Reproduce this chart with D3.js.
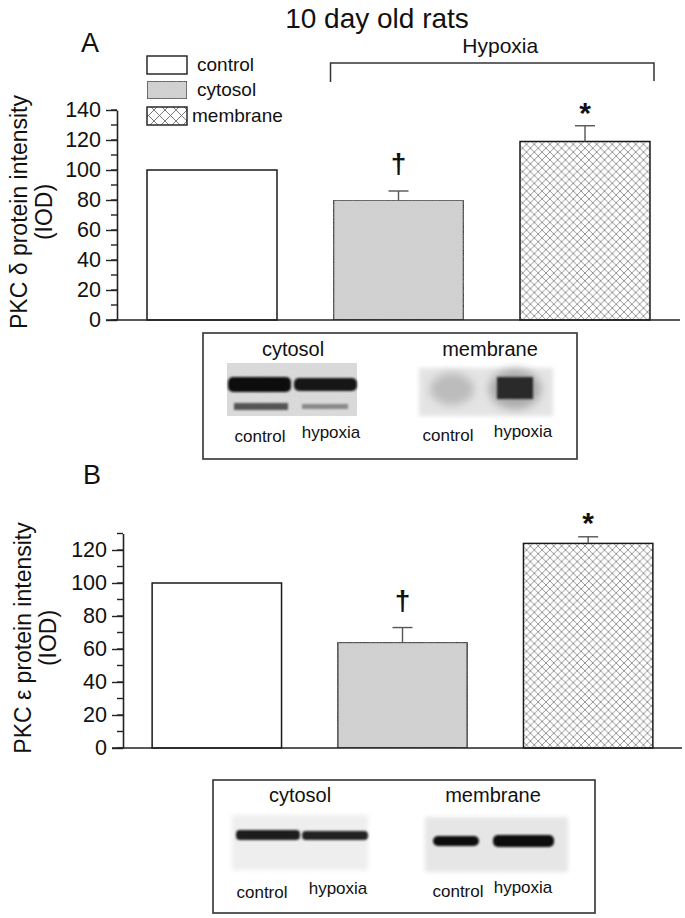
<!DOCTYPE html>
<html><head><meta charset="utf-8">
<script src="https://cdn.jsdelivr.net/npm/d3@7"></script>
<style>body{margin:0;background:#fff}svg{display:block}text{font-family:"Liberation Sans",Arial,sans-serif;fill:#111}</style>
</head><body>
<script>
const categories = ["control", "cytosol", "membrane"];
const valuesA = [100, 80, 119];
const errorsA = [0, 6, 10.5];
const valuesB = [100, 64, 124];
const errorsB = [0, 9, 4];
const markers = ["", "\u2020", "*"];
const ticksA = [0, 20, 40, 60, 80, 100, 120, 140];
const ticksB = [0, 20, 40, 60, 80, 100, 120];
const blotLaneLabels = ["control", "hypoxia"];
const blotFractions = ["cytosol", "membrane"];

const W = 685, H = 918;
const svg = d3.select("body").append("svg").attr("width", W).attr("height", H);
const defs = svg.append("defs");

function hatch(id, size, col, sw) {
  const p = defs.append("pattern").attr("id", id).attr("patternUnits", "userSpaceOnUse")
    .attr("width", size).attr("height", size);
  p.append("rect").attr("width", size).attr("height", size).attr("fill", "#fff");
  p.append("path").attr("d", `M0,0L${size},${size}M${size},0L0,${size}`)
    .attr("stroke", col).attr("stroke-width", sw).attr("fill", "none");
}
hatch("hatch", 7.8, "#7a7a7a", 0.8);
hatch("hatchLeg", 11, "#6a6a6a", 0.9);

const noise = defs.append("filter").attr("id", "grain").attr("x", 0).attr("y", 0).attr("width", 1).attr("height", 1);
noise.append("feTurbulence").attr("type", "fractalNoise").attr("baseFrequency", 0.9).attr("numOctaves", 2).attr("seed", 3).attr("result", "t");
noise.append("feColorMatrix").attr("in", "t").attr("type", "matrix")
  .attr("values", "0 0 0 0 0.55  0 0 0 0 0.55  0 0 0 0 0.55  0 0 0 0.35 0").attr("result", "n");
noise.append("feComposite").attr("in", "n").attr("in2", "SourceGraphic").attr("operator", "in").attr("result", "nn");
noise.append("feMerge").selectAll("feMergeNode").data(["SourceGraphic", "nn"]).join("feMergeNode").attr("in", d => d);

[1, 2, 4, 6].forEach(s => {
  defs.append("filter").attr("id", "blur" + s).attr("x", "-50%").attr("y", "-50%").attr("width", "200%").attr("height", "200%")
    .append("feGaussianBlur").attr("stdDeviation", s);
});

const fills = ["#ffffff", "#d3d3d3", "url(#hatch)"];
const legFills = ["#ffffff", "#d3d3d3", "url(#hatchLeg)"];

function panel(cfg) {
  const g = svg.append("g");
  const x = d3.scaleBand().domain(categories).range(cfg.xr).paddingInner(0.303).paddingOuter(0.1515);
  const y = d3.scaleLinear().domain([0, cfg.ymax]).range([cfg.y0, cfg.y0 - cfg.ymax * cfg.k]);

  const minor = d3.range(0, cfg.ymax + 0.1, 10);
  g.append("g").selectAll("line").data(minor).join("line")
    .attr("x1", cfg.ax - 6).attr("x2", cfg.ax).attr("y1", d => y(d)).attr("y2", d => y(d))
    .attr("stroke", "#222").attr("stroke-width", 1.4);
  const axis = d3.axisLeft(y).tickValues(cfg.ticks).tickSize(11).tickPadding(5).tickSizeOuter(0);
  const ag = g.append("g").attr("transform", `translate(${cfg.ax},0)`).call(axis);
  ag.select(".domain").attr("stroke", "#222").attr("stroke-width", 1.6);
  ag.selectAll(".tick line").attr("stroke", "#222").attr("stroke-width", 1.4);
  ag.selectAll(".tick text").attr("font-size", 21.5).attr("fill", "#111")
    .attr("font-family", '"Liberation Sans",Arial,sans-serif');

  g.append("g").selectAll("rect").data(cfg.values).join("rect")
    .attr("x", (d, i) => x(categories[i])).attr("width", x.bandwidth())
    .attr("y", d => y(d)).attr("height", d => y(0) - y(d))
    .attr("fill", (d, i) => fills[i]).attr("stroke", "#1a1a1a").attr("stroke-width", 1.5)
    .attr("filter", (d, i) => i === 1 ? "url(#grain)" : null);

  g.append("line").attr("x1", cfg.ax - 11).attr("x2", cfg.xend).attr("y1", y(0)).attr("y2", y(0))
    .attr("stroke", "#222").attr("stroke-width", 1.6);

  const eb = g.append("g").attr("stroke", "#555").attr("stroke-width", 1.4);
  cfg.values.forEach((v, i) => {
    if (!cfg.errors[i]) return;
    const cx = x(categories[i]) + x.bandwidth() / 2;
    eb.append("line").attr("x1", cx).attr("x2", cx).attr("y1", y(v)).attr("y2", y(v + cfg.errors[i]));
    eb.append("line").attr("x1", cx - 10).attr("x2", cx + 10).attr("y1", y(v + cfg.errors[i])).attr("y2", y(v + cfg.errors[i]));
  });
  markers.forEach((m, i) => {
    if (!m) return;
    const cx = x(categories[i]) + x.bandwidth() / 2;
    const top = y(cfg.values[i] + cfg.errors[i]);
    g.append("text").attr("x", cx).attr("y", top - (m === "*" ? cfg.starGap : cfg.dagGap))
      .attr("text-anchor", "middle").attr("font-size", m === "*" ? 30 : 28).attr("font-weight", "bold").text(m);
  });

  g.append("text").attr("transform", `translate(${cfg.tx},${cfg.ty}) rotate(-90)`).attr("text-anchor", "middle")
    .attr("font-size", 23).text(cfg.title);
  g.append("text").attr("transform", `translate(${cfg.tx + 25},${cfg.ty}) rotate(-90)`).attr("text-anchor", "middle")
    .attr("font-size", 23).text("(IOD)");
  g.append("text").attr("x", cfg.lx).attr("y", cfg.ly).attr("font-size", 27).text(cfg.letter);
  return { x, y };
}

svg.append("text").attr("x", 377).attr("y", 28).attr("text-anchor", "middle").attr("font-size", 28).text("10 day old rats");

const pA = panel({ xr: [118.75, 678.25], ymax: 140, y0: 320, k: 1.5, ax: 117, ticks: ticksA, values: valuesA, errors: errorsA,
  xend: 680, title: "PKC \u03b4 protein intensity", tx: 27, ty: 212, letter: "A", lx: 81, ly: 52, starGap: 3, dagGap: 18 });
const pB = panel({ xr: [124, 681], ymax: 130, y0: 748, k: 1.65, ax: 123, ticks: ticksB, values: valuesB, errors: errorsB,
  xend: 682, title: "PKC \u03b5 protein intensity", tx: 31, ty: 638, letter: "B", lx: 83, ly: 484, starGap: 4, dagGap: 18 });

const leg = svg.append("g");
categories.forEach((c, i) => {
  const yy = [56, 81, 107][i];
  leg.append("rect").attr("x", 147).attr("y", yy).attr("width", 40).attr("height", 18)
    .attr("fill", legFills[i]).attr("stroke", "#1a1a1a").attr("stroke-width", 1.4)
    .attr("filter", i === 1 ? "url(#grain)" : null);
  leg.append("text").attr("x", i === 2 ? 192 : 197).attr("y", yy + 15).attr("font-size", 19).text(c);
});

const bx0 = pA.x("cytosol") - 3, bx1 = pA.x("membrane") + pA.x.bandwidth() + 4;
svg.append("path").attr("d", `M${bx0},82V63H${bx1}V81`).attr("fill", "none").attr("stroke", "#333").attr("stroke-width", 1.5);
svg.append("text").attr("x", (bx0 + bx1) / 2 + 8).attr("y", 53).attr("text-anchor", "middle").attr("font-size", 21).text("Hypoxia");

function blotBox(b) {
  const g = svg.append("g");
  g.append("rect").attr("x", b.x0).attr("y", b.y0).attr("width", b.x1 - b.x0).attr("height", b.y1 - b.y0)
    .attr("fill", "#fff").attr("stroke", "#333").attr("stroke-width", 1.6);
  blotFractions.forEach((f, i) => {
    g.append("text").attr("x", b.headX[i]).attr("y", b.headY).attr("text-anchor", "middle").attr("font-size", 20).text(f);
  });
  b.lanes.forEach(l => {
    blotLaneLabels.forEach((t, j) => {
      g.append("text").attr("x", l.x[j]).attr("y", l.y[j]).attr("text-anchor", "middle").attr("font-size", 17).text(t);
    });
  });
  return g;
}

const bA = blotBox({ x0: 203, y0: 333, x1: 577, y1: 459, headX: [293, 490], headY: 356,
  lanes: [{ x: [260, 331], y: [442, 438] }, { x: [448, 523], y: [441, 437] }] });
bA.append("rect").attr("x", 227).attr("y", 363).attr("width", 130).attr("height", 53).attr("fill", "#dedede").attr("filter", "url(#grain)");
bA.append("rect").attr("x", 228).attr("y", 377).attr("width", 63).attr("height", 15).attr("rx", 5).attr("fill", "#111").attr("filter", "url(#blur1)");
bA.append("rect").attr("x", 294).attr("y", 378).attr("width", 63).attr("height", 13).attr("rx", 5).attr("fill", "#151515").attr("filter", "url(#blur1)");
bA.append("rect").attr("x", 234).attr("y", 403).attr("width", 54).attr("height", 7).attr("fill", "#555").attr("filter", "url(#blur1)");
bA.append("rect").attr("x", 302).attr("y", 404).attr("width", 46).attr("height", 5).attr("fill", "#888").attr("filter", "url(#blur1)");
bA.append("rect").attr("x", 419).attr("y", 368).attr("width", 134).attr("height", 48).attr("fill", "#e4e4e4").attr("filter", "url(#blur2)");
bA.append("ellipse").attr("cx", 452).attr("cy", 389).attr("rx", 22).attr("ry", 16).attr("fill", "#bcbcbc").attr("filter", "url(#blur4)");
bA.append("ellipse").attr("cx", 515).attr("cy", 389).attr("rx", 26).attr("ry", 20).attr("fill", "#aaa").attr("filter", "url(#blur4)");
bA.append("rect").attr("x", 497).attr("y", 377).attr("width", 36).attr("height", 22).attr("fill", "#2a2a2a").attr("filter", "url(#blur1)");

const bB = blotBox({ x0: 213, y0: 780, x1: 595, y1: 913, headX: [300, 493], headY: 802,
  lanes: [{ x: [262, 338], y: [898, 894] }, { x: [458, 523], y: [897, 893] }] });
bB.append("rect").attr("x", 232).attr("y", 815).attr("width", 136).attr("height", 55).attr("fill", "#eeeeee").attr("filter", "url(#blur2)");
bB.append("rect").attr("x", 236).attr("y", 830).attr("width", 64).attr("height", 10).attr("rx", 4).attr("fill", "#1a1a1a").attr("filter", "url(#blur1)");
bB.append("rect").attr("x", 302).attr("y", 831).attr("width", 66).attr("height", 9).attr("rx", 4).attr("fill", "#222").attr("filter", "url(#blur1)");
bB.append("rect").attr("x", 425).attr("y", 817).attr("width", 143).attr("height", 55).attr("fill", "#e6e6e6").attr("filter", "url(#blur2)");
bB.append("rect").attr("x", 433).attr("y", 836).attr("width", 46).attr("height", 10).attr("rx", 5).attr("fill", "#111").attr("filter", "url(#blur1)");
bB.append("rect").attr("x", 493).attr("y", 835).attr("width", 61).attr("height", 12).attr("rx", 5).attr("fill", "#0d0d0d").attr("filter", "url(#blur1)");
</script>
</body></html>
